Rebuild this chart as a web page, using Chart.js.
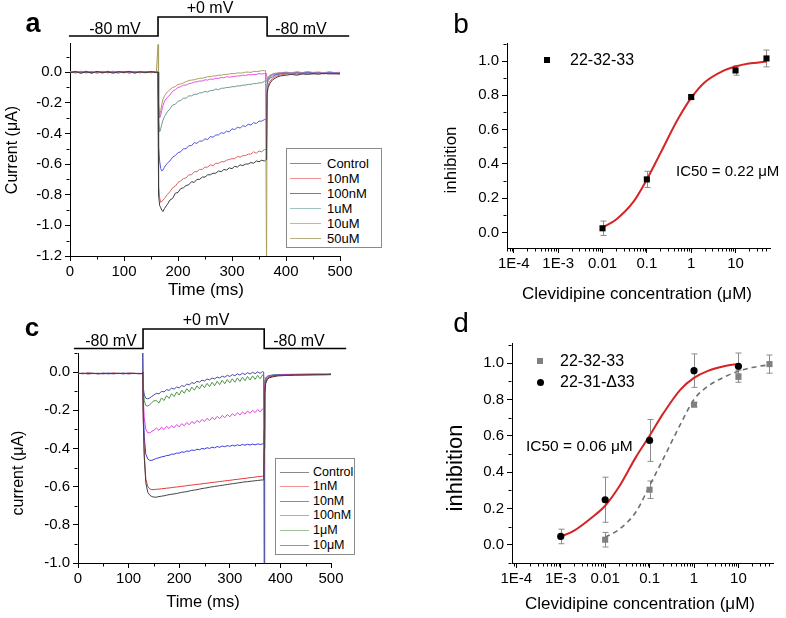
<!DOCTYPE html>
<html><head><meta charset="utf-8">
<script src="https://cdn.jsdelivr.net/npm/chart.js@4.4.1/dist/chart.umd.min.js"></script>
<style>
html,body{margin:0;padding:0;background:#fff;}
body{width:786px;height:618px;overflow:hidden;position:relative;font-family:Arial,"Liberation Sans",sans-serif;color:#000;}
canvas{position:absolute;left:0;top:0;}
.t{position:absolute;white-space:nowrap;line-height:1;transform:translate(-50%,-50%);}
.l{position:absolute;white-space:nowrap;line-height:1;transform:translate(0,-50%);}
.r{position:absolute;white-space:nowrap;line-height:1;transform:translate(-50%,-50%) rotate(-90deg);}
.box{position:absolute;border:1px solid #8a8a8a;background:#fff;box-sizing:border-box;}
.ln{position:absolute;height:1px;}
</style></head><body>
<canvas id="cA" width="786" height="618"></canvas>
<canvas id="cB" width="786" height="618"></canvas>
<canvas id="cC" width="786" height="618"></canvas>
<canvas id="cD" width="786" height="618"></canvas>

<!-- panel letters -->
<div class="t" style="left:33px;top:23px;font-size:27px;font-weight:bold;">a</div>
<div class="t" style="left:461px;top:24px;font-size:28px;">b</div>
<div class="t" style="left:32px;top:327px;font-size:26px;font-weight:bold;">c</div>
<div class="t" style="left:461px;top:323px;font-size:28px;">d</div>

<!-- protocol labels -->
<div class="t" style="left:115px;top:29px;font-size:16px;">-80 mV</div>
<div class="t" style="left:210px;top:8px;font-size:16px;">+0 mV</div>
<div class="t" style="left:301px;top:29px;font-size:16px;">-80 mV</div>
<div class="t" style="left:111px;top:341px;font-size:16px;">-80 mV</div>
<div class="t" style="left:206px;top:320px;font-size:16px;">+0 mV</div>
<div class="t" style="left:299px;top:341px;font-size:16px;">-80 mV</div>

<!-- axis titles -->
<div class="r" style="left:12px;top:150px;font-size:16px;">Current (μA)</div>
<div class="t" style="left:206px;top:289px;font-size:17px;">Time (ms)</div>
<div class="r" style="left:450px;top:160px;font-size:17px;">inhibition</div>
<div class="t" style="left:637px;top:293px;font-size:17px;">Clevidipine concentration (μM)</div>
<div class="r" style="left:18px;top:473px;font-size:16px;">current (μA)</div>
<div class="t" style="left:203px;top:601px;font-size:16.5px;">Time (ms)</div>
<div class="r" style="left:455px;top:468px;font-size:22px;">inhibition</div>
<div class="t" style="left:640px;top:603px;font-size:17px;">Clevidipine concentration (μM)</div>

<!-- legend a -->
<div class="box" style="left:286px;top:148px;width:96px;height:100px;"></div>
<div id="legA"></div>
<!-- legend c -->
<div class="box" style="left:275px;top:458px;width:80px;height:97px;"></div>
<div id="legC"></div>

<!-- b annotations -->
<div style="position:absolute;left:544px;top:57px;width:6px;height:6px;background:#000;"></div>
<div class="l" style="left:570px;top:60px;font-size:16px;">22-32-33</div>
<div class="l" style="left:676px;top:170px;font-size:15px;">IC50 = 0.22 μM</div>

<!-- d annotations -->
<div style="position:absolute;left:537px;top:358px;width:6px;height:6px;background:#808080;"></div>
<div class="l" style="left:560px;top:361px;font-size:16px;">22-32-33</div>
<div style="position:absolute;left:536.5px;top:378.5px;width:7px;height:7px;border-radius:50%;background:#000;"></div>
<div class="l" style="left:560px;top:382px;font-size:16px;">22-31-Δ33</div>
<div class="l" style="left:526px;top:446px;font-size:15.5px;">IC50 = 0.06 μM</div>

<script>
// ---------------- DATA ----------------
// Panel a: time (ms)
const tA = [0,10,20,30,40,50,60,70,80,90,100,110,120,130,140,150,160,
 163,
 164,166,168,170,172,175,
 180,185,190,195,200,205,210,215,220,225,230,235,240,245,250,255,260,265,270,275,280,285,290,295,300,305,310,315,320,325,330,335,340,345,350,355,360,
 362,364,365,367,370,375,380,385,390,
 400,410,420,430,440,450,460,470,480,490,500];
const aNames = ['Control','10nM','100nM','1uM','10uM','50uM'];
const aColors = ['#3c3c3c','#e06262','#5656dc','#6f9a95','#e252ea','#a9a05e'];
const aLegendColors = ['#8a8a8a','#f09090','#7070e0','#a0c4c0','#f090f0','#b4b080'];
const aControl = [-0.005,0.003,-0.008,0.002,-0.006,0.004,-0.003,0.001,-0.007,0.003,-0.002,0.005,-0.006,0.002,-0.004,0.003,-0.003,
 0.0,
 -0.80,-0.87,-0.885,-0.90,-0.91,-0.89,
 -0.865,-0.835,-0.825,-0.79,-0.785,-0.76,-0.755,-0.74,-0.735,-0.715,-0.72,-0.70,-0.70,-0.685,-0.685,-0.67,-0.67,-0.66,-0.66,-0.645,-0.65,-0.635,-0.64,-0.625,-0.63,-0.615,-0.62,-0.605,-0.61,-0.60,-0.60,-0.59,-0.595,-0.58,-0.585,-0.575,-0.58,
 -0.575,-0.57,-0.14,-0.10,-0.075,-0.05,-0.04,-0.03,-0.025,
 -0.02,-0.015,-0.02,-0.012,-0.015,-0.01,-0.014,-0.008,-0.012,-0.01,-0.012];
const a10nM = [0.002,-0.006,0.004,-0.003,0.005,-0.007,0.002,-0.004,0.006,-0.002,0.003,-0.008,0.004,-0.003,0.002,-0.005,0.003,
 0.0,
 -0.74,-0.82,-0.85,-0.845,-0.835,-0.825,
 -0.80,-0.78,-0.755,-0.745,-0.72,-0.71,-0.695,-0.69,-0.67,-0.67,-0.65,-0.65,-0.635,-0.635,-0.62,-0.62,-0.605,-0.61,-0.595,-0.595,-0.585,-0.585,-0.575,-0.57,-0.565,-0.565,-0.55,-0.555,-0.545,-0.545,-0.535,-0.535,-0.52,-0.53,-0.515,-0.52,-0.505,
 -0.505,-0.50,-0.12,-0.085,-0.06,-0.04,-0.03,-0.022,-0.018,
 -0.012,-0.008,-0.014,-0.006,-0.01,-0.012,-0.005,-0.01,-0.008,-0.012,-0.01];
const a100nM = [-0.003,0.004,-0.002,0.006,-0.005,0.002,-0.006,0.004,-0.001,-0.006,0.004,-0.002,0.003,-0.005,0.004,-0.002,0.002,
 0.0,
 -0.48,-0.58,-0.63,-0.645,-0.64,-0.62,
 -0.595,-0.58,-0.555,-0.545,-0.525,-0.52,-0.50,-0.50,-0.48,-0.48,-0.46,-0.465,-0.45,-0.45,-0.435,-0.44,-0.42,-0.425,-0.41,-0.41,-0.395,-0.40,-0.385,-0.39,-0.37,-0.375,-0.36,-0.365,-0.35,-0.355,-0.34,-0.345,-0.33,-0.335,-0.32,-0.32,-0.31,
 -0.31,-0.305,-0.08,-0.055,-0.04,-0.03,-0.02,-0.015,-0.012,
 -0.008,-0.012,-0.006,-0.01,-0.004,-0.009,-0.006,-0.011,-0.005,-0.008,-0.01];
const a1uM = [0.004,-0.004,0.003,-0.006,0.002,-0.003,0.005,-0.005,0.002,0.004,-0.004,0.002,-0.006,0.004,-0.002,0.003,-0.004,
 0.0,
 -0.30,-0.39,-0.37,-0.34,-0.315,-0.29,
 -0.26,-0.24,-0.215,-0.21,-0.19,-0.185,-0.17,-0.17,-0.155,-0.155,-0.145,-0.145,-0.135,-0.135,-0.125,-0.13,-0.12,-0.12,-0.11,-0.115,-0.105,-0.105,-0.10,-0.10,-0.095,-0.095,-0.09,-0.09,-0.085,-0.085,-0.08,-0.08,-0.075,-0.075,-0.07,-0.07,-0.06,
 -0.06,-0.055,-0.06,-0.045,-0.03,-0.02,-0.015,-0.01,-0.008,
 -0.004,-0.008,-0.003,-0.007,-0.002,-0.006,-0.004,-0.008,-0.003,-0.006,-0.005];
const a10uM = [-0.002,0.005,-0.004,0.002,-0.007,0.004,-0.002,0.006,-0.003,0.001,-0.005,0.004,-0.002,0.005,-0.004,0.002,-0.002,
 0.0,
 -0.22,-0.30,-0.28,-0.25,-0.22,-0.19,
 -0.165,-0.15,-0.125,-0.115,-0.10,-0.095,-0.085,-0.085,-0.075,-0.072,-0.065,-0.063,-0.058,-0.058,-0.05,-0.052,-0.045,-0.047,-0.04,-0.042,-0.035,-0.037,-0.03,-0.033,-0.03,-0.028,-0.025,-0.025,-0.02,-0.022,-0.017,-0.018,-0.015,-0.015,-0.01,-0.012,-0.01,
 -0.01,-0.008,-0.06,-0.04,-0.025,-0.015,-0.01,-0.008,-0.005,
 -0.002,-0.006,0.0,-0.004,0.001,-0.005,-0.002,-0.006,0.0,-0.004,-0.003];
const a50uM = [0.003,-0.003,0.006,-0.002,0.003,-0.005,0.004,-0.001,0.002,-0.004,0.005,-0.003,0.004,-0.002,0.003,-0.001,0.004,
 0.18,
 -0.20,-0.28,-0.25,-0.21,-0.18,-0.155,
 -0.13,-0.115,-0.10,-0.095,-0.08,-0.078,-0.07,-0.062,-0.055,-0.052,-0.05,-0.045,-0.04,-0.04,-0.035,-0.03,-0.03,-0.025,-0.025,-0.02,-0.02,-0.016,-0.015,-0.012,-0.01,-0.01,-0.005,-0.006,-0.005,0.0,0.0,-0.002,0.005,0.004,0.005,0.01,0.01,
 0.01,-1.3,-0.04,-0.03,-0.02,-0.012,-0.008,-0.005,-0.004,
 0.0,-0.004,0.002,-0.003,0.003,-0.002,0.001,-0.004,0.002,-0.003,-0.001];
const aSeries = [aControl,a10nM,a100nM,a1uM,a10uM,a50uM];
const protoA_t = [-2,163,365,517];   // ms
const protoA_v = [-80,0,-80];        // mV
const xTicksTime = [0,100,200,300,400,500];
const yTicksA = [-1.2,-1.0,-0.8,-0.6,-0.4,-0.2,0.0];

// Panel b
const concB = [0.01,0.1,1,10,50];
const inhB  = [0.025,0.31,0.79,0.945,1.015];
const errB  = [0.042,0.047,0.012,0.028,0.049];
const fitBx = [0.01,0.02,0.05,0.1,0.2,0.5,1,2,5,10,20,50];
const fitBy = [0.03,0.075,0.18,0.31,0.46,0.66,0.785,0.875,0.94,0.968,0.985,0.997];
const logTicks  = [1e-4,1e-3,0.01,0.1,1,10];
const logLabels = ['1E-4','1E-3','0.01','0.1','1','10'];
const yTicksInh = [0.0,0.2,0.4,0.6,0.8,1.0];

// Panel c
const tC = [0,10,20,30,40,50,60,70,80,90,100,110,120,
 127,128,
 129,131,134,138,142,146,150,
 155,160,165,170,175,180,185,190,195,200,205,210,215,220,225,230,235,240,245,250,255,260,265,270,275,280,285,290,295,300,305,310,315,320,325,330,335,340,345,350,355,360,365,
 367,368,
 369,371,374,378,385,395,
 410,430,450,470,490,500];
const cNames = ['Control','1nM','10nM','100nM','1μM','10μM'];
const cColors = ['#424242','#e23636','#3a3ae0','#e244e2','#4f9444','#4a4aa6'];
const cLegendColors = ['#8a8a8a','#f09090','#8080e8','#f080f0','#9cc49c','#8c8cc8'];
const cControl = [-0.008,-0.006,-0.009,-0.007,-0.008,-0.006,-0.009,-0.007,-0.008,-0.006,-0.009,-0.007,-0.008,
 -0.008,0.0,
 -0.25,-0.45,-0.58,-0.63,-0.645,-0.652,-0.655,
 -0.655,-0.652,-0.65,-0.648,-0.645,-0.642,-0.64,-0.638,-0.636,-0.633,-0.63,-0.628,-0.626,-0.623,-0.62,-0.618,-0.616,-0.613,-0.61,-0.608,-0.606,-0.603,-0.601,-0.599,-0.597,-0.595,-0.593,-0.591,-0.589,-0.587,-0.585,-0.583,-0.581,-0.579,-0.577,-0.575,-0.574,-0.572,-0.571,-0.569,-0.568,-0.566,-0.565,
 -0.565,-0.4,
 -0.12,-0.06,-0.04,-0.03,-0.025,-0.02,
 -0.018,-0.016,-0.015,-0.014,-0.014,-0.013];
const c1nM = [-0.006,-0.008,-0.005,-0.007,-0.009,-0.006,-0.008,-0.005,-0.007,-0.008,-0.006,-0.007,-0.008,
 -0.007,0.0,
 -0.24,-0.43,-0.56,-0.60,-0.612,-0.616,-0.615,
 -0.614,-0.613,-0.611,-0.61,-0.608,-0.607,-0.605,-0.603,-0.602,-0.6,-0.598,-0.597,-0.595,-0.593,-0.592,-0.59,-0.588,-0.587,-0.585,-0.583,-0.582,-0.58,-0.578,-0.577,-0.575,-0.573,-0.572,-0.57,-0.568,-0.567,-0.565,-0.563,-0.562,-0.56,-0.558,-0.557,-0.555,-0.553,-0.552,-0.55,-0.548,-0.547,-0.545,
 -0.545,-0.35,
 -0.1,-0.05,-0.035,-0.028,-0.022,-0.018,
 -0.016,-0.015,-0.014,-0.014,-0.013,-0.013];
const c10nM = [-0.007,-0.008,-0.006,-0.008,-0.007,-0.009,-0.006,-0.008,-0.007,-0.006,-0.008,-0.007,-0.008,
 -0.008,0.0,
 -0.2,-0.34,-0.43,-0.455,-0.463,-0.462,-0.458,
 -0.452,-0.449,-0.444,-0.442,-0.437,-0.436,-0.43,-0.43,-0.424,-0.425,-0.418,-0.42,-0.413,-0.415,-0.408,-0.411,-0.404,-0.407,-0.4,-0.403,-0.396,-0.4,-0.393,-0.397,-0.39,-0.394,-0.387,-0.391,-0.385,-0.389,-0.383,-0.387,-0.381,-0.385,-0.379,-0.383,-0.378,-0.382,-0.377,-0.381,-0.376,-0.379,-0.376,
 -0.376,-0.3,
 -0.09,-0.05,-0.035,-0.027,-0.02,-0.017,
 -0.015,-0.014,-0.014,-0.013,-0.013,-0.012];
const c100nM = [-0.006,-0.008,-0.007,-0.006,-0.009,-0.007,-0.008,-0.006,-0.007,-0.009,-0.006,-0.008,-0.007,
 -0.007,0.0,
 -0.14,-0.24,-0.3,-0.318,-0.318,-0.31,-0.305,
 -0.293,-0.305,-0.289,-0.301,-0.284,-0.296,-0.28,-0.292,-0.275,-0.287,-0.27,-0.281,-0.264,-0.276,-0.259,-0.27,-0.253,-0.264,-0.248,-0.259,-0.242,-0.254,-0.237,-0.249,-0.232,-0.244,-0.227,-0.239,-0.222,-0.234,-0.218,-0.229,-0.213,-0.225,-0.209,-0.22,-0.204,-0.216,-0.2,-0.212,-0.196,-0.208,-0.192,
 -0.198,-0.25,
 -0.07,-0.04,-0.03,-0.024,-0.02,-0.016,
 -0.014,-0.013,-0.013,-0.012,-0.012,-0.012];
const c1uM = [-0.008,-0.006,-0.009,-0.007,-0.006,-0.008,-0.007,-0.009,-0.006,-0.008,-0.007,-0.006,-0.008,
 -0.007,0.0,
 -0.1,-0.15,-0.175,-0.178,-0.17,-0.16,-0.15,
 -0.15,-0.162,-0.135,-0.149,-0.123,-0.138,-0.113,-0.128,-0.104,-0.12,-0.095,-0.111,-0.087,-0.103,-0.079,-0.095,-0.072,-0.088,-0.065,-0.082,-0.059,-0.076,-0.053,-0.071,-0.048,-0.066,-0.043,-0.061,-0.039,-0.057,-0.035,-0.053,-0.031,-0.049,-0.027,-0.045,-0.023,-0.042,-0.02,-0.038,-0.017,-0.035,-0.014,
 -0.02,-0.2,
 -0.06,-0.035,-0.025,-0.02,-0.017,-0.015,
 -0.013,-0.012,-0.012,-0.011,-0.011,-0.011];
const c10uM = [-0.007,-0.008,-0.006,-0.007,-0.008,-0.007,-0.006,-0.008,-0.007,-0.008,-0.006,-0.007,-0.007,
 -0.007,0.12,
 -0.08,-0.12,-0.137,-0.14,-0.135,-0.127,-0.12,
 -0.111,-0.114,-0.101,-0.104,-0.092,-0.096,-0.084,-0.089,-0.078,-0.083,-0.071,-0.075,-0.063,-0.067,-0.055,-0.06,-0.048,-0.053,-0.042,-0.047,-0.036,-0.041,-0.031,-0.036,-0.026,-0.031,-0.021,-0.027,-0.017,-0.023,-0.013,-0.019,-0.009,-0.016,-0.006,-0.013,-0.003,-0.01,-0.001,-0.008,0.001,-0.006,0.003,
 0.0,-1.1,
 -0.05,-0.03,-0.022,-0.018,-0.015,-0.013,
 -0.012,-0.012,-0.011,-0.011,-0.011,-0.01];
const cSeries = [cControl,c1nM,c10nM,c100nM,c1uM,c10uM];
const protoC_t = [-8,128.5,368,530];
const protoC_v = [-80,0,-80];
const yTicksC = [-1.0,-0.8,-0.6,-0.4,-0.2,0.0];

// Panel d
const concD1 = [0.01,0.1,1,10,50];          // 22-32-33
const inhD1  = [0.028,0.303,0.771,0.927,0.994];
const errD1  = [0.04,0.048,0.012,0.033,0.05];
const concD2 = [0.001,0.01,0.1,1,10];       // 22-31-Δ33
const inhD2  = [0.046,0.248,0.574,0.958,0.982];
const errD2  = [0.04,0.124,0.115,0.092,0.073];
const fitD2x = [0.001,0.002,0.005,0.01,0.02,0.05,0.1,0.2,0.5,1,2,5,10];
const fitD2y = [0.045,0.078,0.15,0.215,0.315,0.485,0.60,0.72,0.855,0.918,0.955,0.983,0.995];
const fitD1x = [0.01,0.02,0.05,0.1,0.2,0.5,1,2,5,10,20,50];
const fitD1y = [0.042,0.082,0.183,0.325,0.47,0.665,0.80,0.87,0.925,0.955,0.975,0.99];

// ---------------- SETUP ----------------
Chart.defaults.font.family = 'Arial, "Liberation Sans", sans-serif';
Chart.defaults.color = '#000';
Chart.defaults.animation = false;
const PW = 786, PH = 618;

function pts(xs, ys){ return xs.map((x,i)=>({x:x, y:ys[i]})); }

function padFor(area, yW, xH){
  return {left: area.l - yW, top: area.t, right: PW - area.r, bottom: PH - area.b - xH};
}
function scaleCfg(isX, type, min, max, fix, tickVals, fmt){
  return {
    type: type, min: min, max: max,
    grid: {drawOnChartArea:false, drawTicks:true, tickLength:5, tickColor:'#000', tickWidth:1, color:'#000'},
    border: {display:true, color:'#000', width:1},
    ticks: {color:'#000', font:{size:15}, padding: isX ? 2 : 3, autoSkip:false, maxRotation:0, minRotation:0,
            callback: (v, i) => fmt(v, i)},
    afterBuildTicks: s => { s.ticks = tickVals.map(v => ({value: v})); },
    afterFit: function(s){
      if (isX){ s.height = fix; s.paddingLeft = 0; s.paddingRight = 0; }
      else { s.width = fix; s.paddingTop = 0; s.paddingBottom = 0; }
    }
  };
}
const fmt1 = v => v.toFixed(1);
const fmtInt = v => String(Math.round(v));
const fmtLog = (v, i) => logLabels[i];

// minor ticks plugin (axis decoration, halfway between major ticks / 2..9 on log axes)
const minorTicks = {
  id: 'minorTicks',
  afterDraw(chart){
    const ctx = chart.ctx;
    ctx.save(); ctx.strokeStyle = '#000'; ctx.lineWidth = 1;
    ['x','y'].forEach(id => {
      const s = chart.scales[id]; if (!s) return;
      const vals = [];
      if (s.type === 'logarithmic'){
        for (let k = Math.floor(Math.log10(s.min)); k <= Math.ceil(Math.log10(s.max)); k++)
          for (let m = 2; m <= 9; m++){ const v = m * Math.pow(10, k); if (v > s.min && v < s.max) vals.push(v); }
      } else {
        const t = s.ticks.map(o => o.value);
        const st = t[1] - t[0];
        for (let i = 0; i < t.length - 1; i++) vals.push((t[i] + t[i+1]) / 2);
        if (t[t.length-1] + st/2 <= s.max + 1e-9) vals.push(t[t.length-1] + st/2);
        if (t[0] - st/2 >= s.min - 1e-9) vals.push(t[0] - st/2);
      }
      vals.forEach(v => {
        const p = Math.round(s.getPixelForValue(v)) + 0.5;
        ctx.beginPath();
        if (id === 'x'){ const y0 = Math.round(chart.chartArea.bottom) + 0.5; ctx.moveTo(p, y0); ctx.lineTo(p, y0 + 3); }
        else { const x0 = Math.round(chart.chartArea.left) - 0.5; ctx.moveTo(x0, p); ctx.lineTo(x0 - 3, p); }
        ctx.stroke();
      });
    });
    ctx.restore();
  }
};
// error bars plugin
const errorBars = {
  id: 'errorBars',
  beforeDatasetsDraw(chart){
    const ctx = chart.ctx, xs = chart.scales.x, ys = chart.scales.y;
    ctx.save(); ctx.strokeStyle = '#8c8c8c'; ctx.lineWidth = 1;
    chart.data.datasets.forEach(ds => {
      if (!ds.errors) return;
      ds.data.forEach((p, i) => {
        const e = ds.errors[i];
        const x = Math.round(xs.getPixelForValue(p.x)) + 0.5;
        const y1 = ys.getPixelForValue(p.y + e), y2 = ys.getPixelForValue(p.y - e);
        ctx.beginPath();
        ctx.moveTo(x, y1); ctx.lineTo(x, y2);
        ctx.moveTo(x - 3, y1); ctx.lineTo(x + 3, y1);
        ctx.moveTo(x - 3, y2); ctx.lineTo(x + 3, y2);
        ctx.stroke();
      });
    });
    ctx.restore();
  }
};
// voltage protocol plugin
const protocol = {
  id: 'protocol',
  afterDraw(chart, args, o){
    if (!o || !o.times) return;
    const xs = chart.scales.x, ctx = chart.ctx;
    const yv = v => o.yLow + (v - o.vLow) / (o.vHigh - o.vLow) * (o.yHigh - o.yLow);
    const X = t => xs.getPixelForValue(t);
    ctx.save(); ctx.strokeStyle = '#000'; ctx.lineWidth = 1.6;
    ctx.beginPath();
    ctx.moveTo(X(o.times[0]), yv(o.volts[0]));
    for (let i = 0; i < o.volts.length; i++){
      if (i > 0) ctx.lineTo(X(o.times[i]), yv(o.volts[i]));
      ctx.lineTo(X(o.times[i+1]), yv(o.volts[i]));
    }
    ctx.stroke(); ctx.restore();
  }
};
Chart.register(minorTicks, errorBars, protocol);

function traceChart(id, t, series, colors, area, xMax, yMin, yMax, yTicks, proto){
  const ds = series.map((s, i) => ({
    data: pts(t, s), showLine: true, pointRadius: 0, borderColor: colors[i], borderWidth: 1, tension: 0
  }));
  new Chart(document.getElementById(id), {
    type: 'scatter',
    data: {datasets: ds},
    options: {
      responsive: false, animation: false, events: [],
      layout: {padding: padFor(area, 55, 30)},
      plugins: {legend:{display:false}, tooltip:{enabled:false}, protocol: proto},
      scales: {x: scaleCfg(true, 'linear', 0, xMax, 30, xTicksTime, fmtInt),
               y: scaleCfg(false, 'linear', yMin, yMax, 55, yTicks, fmt1)}
    }
  });
}

// Panel a
traceChart('cA', tA, aSeries, aColors, {l:70, t:43, r:340, b:256}, 500, -1.2, 0.19, yTicksA,
  {times: protoA_t, volts: protoA_v, vLow: -80, vHigh: 0, yLow: 36, yHigh: 17});
// Panel c
traceChart('cC', tC, cSeries, cColors, {l:78, t:353, r:331, b:563}, 500, -1.0, 0.1, yTicksC,
  {times: protoC_t, volts: protoC_v, vLow: -80, vHigh: 0, yLow: 348.5, yHigh: 329});

// Panel b
new Chart(document.getElementById('cB'), {
  type: 'scatter',
  data: {datasets: [
    {data: pts(concB, inhB), errors: errB, pointStyle: 'rect', pointRadius: 4.3, backgroundColor: '#000', borderColor: '#000', borderWidth: 0},
    {data: pts(fitBx, fitBy), showLine: true, pointRadius: 0, borderColor: '#d42424', borderWidth: 2, cubicInterpolationMode: 'monotone'}
  ]},
  options: {
    responsive: false, animation: false, events: [],
    layout: {padding: padFor({l:507, t:43, r:770, b:248}, 55, 30)},
    plugins: {legend:{display:false}, tooltip:{enabled:false}},
    scales: {x: scaleCfg(true, 'logarithmic', 7e-5, 60, 30, logTicks, fmtLog),
             y: scaleCfg(false, 'linear', -0.09, 1.105, 55, yTicksInh, fmt1)}
  }
});

// Panel d
new Chart(document.getElementById('cD'), {
  type: 'scatter',
  data: {datasets: [
    {data: pts(concD2, inhD2), errors: errD2, pointStyle: 'circle', pointRadius: 3.6, backgroundColor: '#000', borderColor: '#000', borderWidth: 0},
    {data: pts(concD1, inhD1), errors: errD1, pointStyle: 'rect', pointRadius: 4.3, backgroundColor: '#808080', borderColor: '#808080', borderWidth: 0},
    {data: pts(fitD2x, fitD2y), showLine: true, pointRadius: 0, borderColor: '#d42424', borderWidth: 2, cubicInterpolationMode: 'monotone'},
    {data: pts(fitD1x, fitD1y), showLine: true, pointRadius: 0, borderColor: '#6e6e6e', borderWidth: 1.6, borderDash: [5,4], cubicInterpolationMode: 'monotone'}
  ]},
  options: {
    responsive: false, animation: false, events: [],
    layout: {padding: padFor({l:512, t:343, r:773, b:563}, 55, 30)},
    plugins: {legend:{display:false}, tooltip:{enabled:false}},
    scales: {x: scaleCfg(true, 'logarithmic', 8e-5, 60, 30, logTicks, fmtLog),
             y: scaleCfg(false, 'linear', -0.10, 1.11, 55, yTicksInh, fmt1)}
  }
});

// HTML legends for a and c
function legend(elId, names, colors, y0, dy, fs, lineX, lineW, textX){
  const el = document.getElementById(elId);
  names.forEach((n, i) => {
    const y = y0 + i * dy;
    const ln = document.createElement('div'); ln.className = 'ln';
    ln.style.left = lineX + 'px'; ln.style.top = Math.round(y) + 'px';
    ln.style.width = lineW + 'px'; ln.style.background = colors[i];
    el.appendChild(ln);
    const tx = document.createElement('div'); tx.className = 'l';
    tx.style.left = textX + 'px'; tx.style.top = y + 'px'; tx.style.fontSize = fs + 'px';
    tx.textContent = n; el.appendChild(tx);
  });
}
legend('legA', aNames, aLegendColors, 162.5, 15.1, 13, 290, 31, 327);
legend('legC', cNames, cLegendColors, 471.5, 14.6, 12.5, 280, 29, 313);
</script>
</body></html>
